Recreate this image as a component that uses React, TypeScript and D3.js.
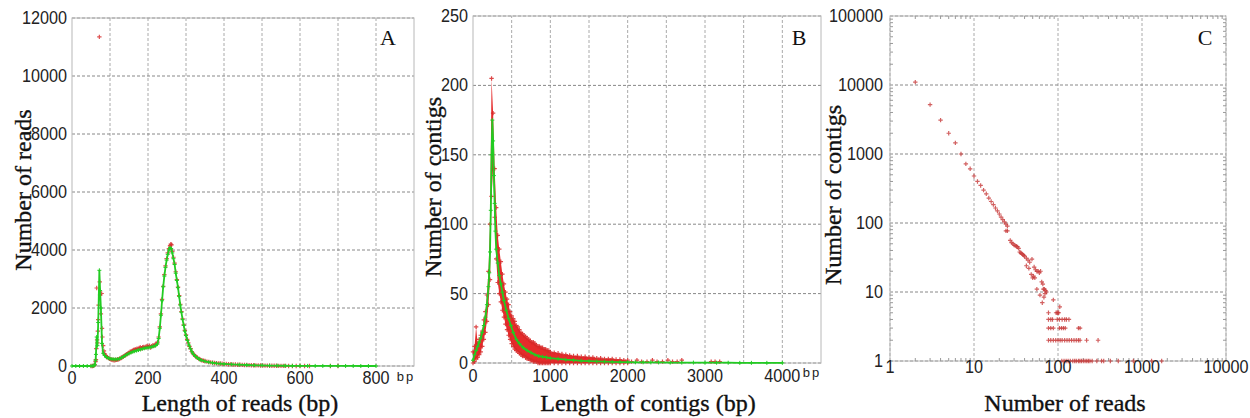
import React, { useEffect, useRef } from 'react';
import * as d3 from 'd3';

// ---- Panel A: length of reads ----
const lenA = [0, 10, 20, 30, 40, 50, 55, 58, 60, 62, 63, 65, 67, 69, 72, 74, 76, 79, 82, 86, 91, 96, 100, 105, 110, 115, 120, 125, 130, 135, 140, 145, 150, 155, 160, 165, 170, 175, 180, 185, 190, 195, 200, 205, 210, 215, 220, 225, 228, 231, 234, 237, 240, 243, 246, 249, 252, 255, 258, 261, 264, 267, 270, 273, 276, 279, 282, 285, 288, 291, 294, 297, 300, 304, 308, 312, 316, 320, 325, 330, 335, 340, 350, 360, 370, 380, 390, 400, 420, 440, 460, 480, 500, 520, 540, 560, 580, 600, 620, 640, 660, 680, 700, 720, 740, 760, 780, 800];
const readsA = [0, 0, 0, 0, 0, 0, 5, 15, 40, 200, 400, 1000, 700, 1500, 3300, 2600, 2000, 780, 440, 360, 300, 270, 255, 240, 232, 228, 235, 255, 285, 320, 360, 400, 430, 460, 490, 510, 530, 550, 570, 590, 610, 625, 635, 640, 660, 680, 700, 760, 950, 1300, 1750, 2250, 2730, 3100, 3400, 3650, 3850, 4000, 4080, 4050, 3900, 3700, 3500, 3200, 2950, 2700, 2400, 2100, 1850, 1600, 1400, 1200, 1050, 880, 720, 590, 480, 400, 330, 280, 230, 200, 160, 130, 110, 90, 80, 70, 55, 45, 35, 25, 20, 15, 12, 8, 6, 5, 4, 3, 2, 2, 1, 1, 1, 0, 0, 0];
const redLenA = [50, 54, 57, 60, 62, 63, 64, 65, 66, 67, 68, 69, 70, 72, 73, 74, 76, 78, 79, 80, 82, 84, 86, 88, 90, 93, 96, 99, 102, 105, 108, 111, 114, 117, 120, 123, 126, 129, 132, 135, 138, 141, 144, 147, 150, 153, 156, 159, 162, 165, 168, 171, 174, 177, 180, 183, 186, 189, 192, 195, 198, 201, 204, 207, 210, 213, 216, 219, 222, 225, 228, 231, 234, 237, 240, 243, 246, 249, 252, 255, 258, 260, 262, 264, 267, 270, 273, 276, 279, 282, 285, 288, 291, 294, 297, 300, 303, 306, 309, 312, 315, 318, 321, 324, 327, 330, 334, 338, 342, 346, 350, 355, 360, 365, 370, 375, 380, 385, 390, 395, 400, 406, 412, 418, 424, 430, 436, 442, 448, 454, 460, 466, 472, 478, 484, 490, 496, 502, 508, 514, 520, 526, 532, 538, 544, 550, 556, 562, 570, 580, 590, 600, 612, 625, 680, 700];
const redReadsA = [0, 0, 10, 40, 150, 220, 600, 2690, 900, 800, 1200, 1600, 2100, 11350, 2900, 2450, 1800, 2500, 1300, 1000, 700, 520, 420, 370, 330, 300, 270, 250, 230, 215, 205, 200, 205, 210, 220, 235, 255, 275, 300, 330, 350, 380, 410, 430, 460, 490, 500, 530, 550, 560, 580, 600, 590, 620, 640, 610, 650, 660, 640, 670, 690, 660, 700, 640, 680, 720, 700, 740, 760, 820, 1000, 1350, 1800, 2300, 2750, 3150, 3450, 3700, 3900, 4050, 4150, 4200, 4180, 3950, 3750, 3550, 3250, 2980, 2720, 2430, 2130, 1880, 1630, 1420, 1230, 1070, 920, 800, 680, 600, 500, 440, 390, 350, 310, 290, 250, 220, 200, 180, 170, 150, 140, 125, 115, 105, 100, 92, 85, 80, 75, 68, 62, 58, 52, 50, 45, 42, 38, 35, 32, 30, 28, 25, 22, 20, 18, 16, 14, 12, 10, 9, 8, 7, 6, 5, 4, 3, 2, 2, 1, 1, 1, 0, 0, 0];
const xTicksA = [0, 200, 400, 600, 800];
const xGridA = [100, 200, 300, 400, 500, 600, 700, 800];
const yTicksA = [0, 2000, 4000, 6000, 8000, 10000, 12000];

// ---- Panel B: length of contigs ----
const lenB = [0, 20, 40, 60, 80, 100, 120, 140, 160, 180, 200, 210, 220, 230, 240, 250, 260, 270, 280, 290, 300, 320, 340, 360, 380, 400, 430, 460, 490, 520, 560, 600, 650, 700, 750, 800, 850, 900, 950, 1000, 1100, 1200, 1300, 1400, 1500, 1600, 1700, 1800, 1900, 2000, 2100, 2200, 2300, 2400, 2550, 2700, 2850, 3000, 3150, 3300, 3450, 3600, 3800, 4000];
const contigsB = [2, 6, 9, 12, 15, 18, 22, 27, 33, 42, 55, 65, 80, 110, 150, 175, 160, 135, 115, 95, 82, 72, 63, 57, 51, 45, 38, 32, 27, 22, 17, 14, 11, 9, 7.5, 6, 5, 4.5, 4, 3.5, 3, 2.4, 2, 1.6, 1.3, 1.1, 1, 0.8, 0.7, 0.6, 0.5, 0.5, 0.4, 0.4, 0.3, 0.3, 0.3, 0.2, 0.2, 0.2, 0.1, 0.1, 0.1, 0.1];
const redLenB = [0, 20, 40, 60, 80, 100, 120, 140, 160, 180, 200, 220, 240, 260, 280, 300, 320, 340, 360, 380, 400, 420, 440, 460, 480, 500, 520, 540, 560, 580, 600, 620, 640, 660, 680, 700, 720, 740, 760, 780, 800, 820, 840, 860, 880, 900, 920, 940, 960, 980, 1000, 1050, 1100, 1150, 1200, 1250, 1300, 1350, 1400, 1450, 1500, 1550, 1600, 1650, 1700, 1750, 1800, 1850, 1900, 1950, 2000];
const redHiB = [8, 12, 26, 14, 17, 20, 23, 31, 37, 49, 66, 100, 205, 180, 140, 112, 92, 82, 73, 64, 57, 51, 46, 42, 37, 34, 32, 30, 27, 26, 24, 22, 21, 20, 19, 18, 17, 16, 15, 15, 14, 13, 12, 12, 11, 11, 10, 10, 9, 9, 8, 7.5, 7, 6.5, 6, 5.5, 5, 5, 4.5, 4.5, 4, 4, 3.5, 3.5, 3, 3, 3, 2.5, 2.5, 2, 2];
const redLoB = [0, 1, 3, 4, 6, 8, 12, 17, 22, 30, 42, 60, 120, 140, 105, 75, 58, 50, 44, 38, 33, 28, 24, 20, 17, 14, 12, 10, 9, 8, 7, 6, 5, 5, 4, 3, 3, 2, 2, 1, 1, 1, 0, 0, 0, 0, 0, 0, 0, 0, 0, 0, 0, 0, 0, 0, 0, 0, 0, 0, 0, 0, 0, 0, 0, 0, 0, 0, 0, 0, 0];
const sparseLenB = [2050, 2120, 2180, 2250, 2320, 2380, 2450, 2520, 2580, 2640, 2700, 3080, 3130, 3190];
const sparseCntB = [1, 2, 1, 1, 2, 1, 1, 2, 1, 1, 2, 1, 1, 1];
const xTicksB = [0, 1000, 2000, 3000, 4000];
const xGridB = [500, 1000, 1500, 2000, 2500, 3000, 3500, 4000];
const yTicksB = [0, 50, 100, 150, 200, 250];

// ---- Panel C: reads per contig (log-log) ----
const readsC = [2, 3, 4, 5, 6, 7, 8, 9, 10, 11, 12, 13, 14, 15, 16, 17, 18, 19, 20, 21, 22, 23, 24, 25,
  24, 25, 27, 28, 29, 30, 31, 32, 33, 34, 35, 36, 37, 38, 39, 40, 42, 44, 46, 42, 45, 49, 52, 54, 56, 58, 60, 62, 48, 51, 53, 50,
  64, 66, 67, 69, 71, 73, 70, 56, 61, 68, 65, 88, 105, 77, 95, 98, 100, 102,
  77, 82, 86, 98, 104, 112, 120, 126, 135,
  77, 82, 88, 104, 110, 116, 122, 175, 183,
  77, 82, 88, 94, 100, 106, 112, 120, 128, 136, 145, 155, 165, 175, 183, 219, 300,
  111, 118, 125, 132, 140, 150, 158, 165, 175, 182, 190, 200, 210, 220, 230, 240, 255, 290, 330, 350, 420, 522, 789, 1300, 1715];
const contigsC = [11000, 5200, 3100, 2000, 1450, 1000, 720, 610, 480, 400, 350, 300, 265, 230, 205, 185, 165, 150, 135, 122, 112, 104, 96, 90,
  77, 77, 56, 52, 50, 48, 47, 46, 45, 43, 38, 37, 36, 35, 34, 33, 31, 29, 27, 24, 22, 30, 23, 21, 20, 20, 19, 20, 18, 17, 16, 16,
  14, 13, 11, 11, 10.5, 10, 9.5, 11, 9, 8.4, 7, 7.7, 6.1, 5, 5, 5, 5, 5,
  4, 4, 4, 4, 4, 4, 4, 4, 4,
  3, 3, 3, 3, 3, 3, 3, 3, 3,
  2, 2, 2, 2, 2, 2, 2, 2, 2, 2, 2, 2, 2, 2, 2, 2, 2,
  1, 1, 1, 1, 1, 1, 1, 1, 1, 1, 1, 1, 1, 1, 1, 1, 1, 1, 1, 1, 1, 1, 1, 1, 1];
const xTicksC = [1, 10, 100, 1000, 10000];
const yTicksC = [1, 10, 100, 1000, 10000, 100000];

const RED = '#d82828';
const GREEN = '#22cc22';

function plusPath(s: number) {
  return `M${-s},0H${s}M0,${-s}V${s}`;
}

function tickText(g: any, txt: string, x: number, y: number, anchor: string) {
  g.append('text')
    .attr('transform', `translate(${x},${y}) scale(0.9,1)`)
    .attr('text-anchor', anchor)
    .attr('font-family', 'Liberation Sans, Arial, sans-serif')
    .attr('font-size', 18)
    .attr('fill', '#222')
    .text(txt);
}

function frame(g: any, x: any, y: any, xGrid: number[], yGrid: number[]) {
  const [x0, x1] = x.range();
  const [y0, y1] = y.range();
  g.selectAll('.vg').data(xGrid).enter().append('line')
    .attr('x1', (d: number) => x(d)).attr('x2', (d: number) => x(d))
    .attr('y1', y0).attr('y2', y1)
    .attr('stroke', '#aaa').attr('stroke-dasharray', '3,2');
  g.selectAll('.hg').data(yGrid).enter().append('line')
    .attr('x1', x0).attr('x2', x1)
    .attr('y1', (d: number) => y(d)).attr('y2', (d: number) => y(d))
    .attr('stroke', '#888').attr('stroke-dasharray', '3,2');
  g.append('rect')
    .attr('x', x0).attr('y', y1).attr('width', x1 - x0).attr('height', y0 - y1)
    .attr('fill', 'none').attr('stroke', '#b8b8b8');
}

function titles(g: any, xt: string, xtx: number, yt: string, ytx: number, yty: number, letter: string, lx: number) {
  const serif = 'Liberation Serif, Times New Roman, serif';
  g.append('text').attr('x', xtx).attr('y', 411).attr('text-anchor', 'middle')
    .attr('font-family', serif).attr('font-size', 24).attr('fill', '#111')
    .attr('stroke', '#111').attr('stroke-width', 0.35).text(xt);
  g.append('text').attr('transform', `translate(${ytx},${yty}) rotate(-90)`).attr('text-anchor', 'middle')
    .attr('font-family', serif).attr('font-size', 24).attr('fill', '#111')
    .attr('stroke', '#111').attr('stroke-width', 0.35).text(yt);
  g.append('text').attr('x', lx).attr('y', 45).attr('text-anchor', 'middle')
    .attr('font-family', serif).attr('font-size', 22).attr('fill', '#111').text(letter);
}

export default function App() {
  const ref = useRef<SVGSVGElement>(null);

  useEffect(() => {
    const svg = d3.select(ref.current);
    svg.selectAll('*').remove();

    // ----- A -----
    const gA = svg.append('g');
    const xA = d3.scaleLinear().domain([0, 900]).range([72, 414]);
    const yA = d3.scaleLinear().domain([0, 12000]).range([366, 18]);
    frame(gA, xA, yA, xGridA, yTicksA);
    gA.selectAll('.r').data(redLenA).enter().append('path')
      .attr('d', plusPath(2.2))
      .attr('transform', (d: number, i: number) => `translate(${xA(d)},${yA(redReadsA[i])})`)
      .attr('stroke', RED).attr('stroke-width', 1.2).attr('opacity', 0.8);
    const lineA = d3.line<number>().x((d) => xA(d)).y((d, i) => yA(readsA[i]));
    gA.append('path').attr('d', lineA(lenA)).attr('fill', 'none').attr('stroke', GREEN).attr('stroke-width', 1.8);
    gA.selectAll('.gm').data(lenA).enter().append('path')
      .attr('d', plusPath(2))
      .attr('transform', (d: number, i: number) => `translate(${xA(d)},${yA(readsA[i])})`)
      .attr('stroke', GREEN).attr('stroke-width', 1);
    yTicksA.forEach((t) => tickText(gA, String(t), 67, yA(t) + 6, 'end'));
    xTicksA.forEach((t) => tickText(gA, String(t), xA(t), 384, 'middle'));
    gA.append('text').attr('x', 406).attr('y', 381).attr('text-anchor', 'middle')
      .attr('font-family', 'Liberation Sans, Arial, sans-serif').attr('font-size', 13)
      .attr('letter-spacing', 2).attr('fill', '#222').text('bp');
    titles(gA, 'Length of reads (bp)', 240, 'Number of reads', 31, 190, 'A', 388);

    // ----- B -----
    const gB = svg.append('g');
    const xB = d3.scaleLinear().domain([0, 4500]).range([473, 821]);
    const yB = d3.scaleLinear().domain([0, 250]).range([363, 16]);
    frame(gB, xB, yB, xGridB, yTicksB);
    const areaB = d3.area<number>().x((d) => xB(d)).y0((d, i) => yB(redLoB[i])).y1((d, i) => yB(redHiB[i]));
    gB.append('path').attr('d', areaB(redLenB)).attr('fill', '#e42020').attr('opacity', 0.95);
    const cloud = redLenB.map((d, i) => [d, redHiB[i]]).concat(redLenB.map((d, i) => [d, redLoB[i]]))
      .concat(sparseLenB.map((d, i) => [d, sparseCntB[i]]));
    gB.selectAll('.r').data(cloud).enter().append('path')
      .attr('d', plusPath(2.2))
      .attr('transform', (d: number[]) => `translate(${xB(d[0])},${yB(d[1])})`)
      .attr('stroke', RED).attr('stroke-width', 1.2).attr('opacity', 0.85);
    const lineB = d3.line<number>().x((d) => xB(d)).y((d, i) => yB(contigsB[i]));
    gB.append('path').attr('d', lineB(lenB)).attr('fill', 'none').attr('stroke', GREEN).attr('stroke-width', 1.8);
    gB.selectAll('.gm').data(lenB).enter().append('path')
      .attr('d', plusPath(2))
      .attr('transform', (d: number, i: number) => `translate(${xB(d)},${yB(contigsB[i])})`)
      .attr('stroke', GREEN).attr('stroke-width', 1);
    yTicksB.forEach((t) => tickText(gB, String(t), 468, yB(t) + 6, 'end'));
    xTicksB.forEach((t) => tickText(gB, String(t), xB(t), 382, 'middle'));
    gB.append('text').attr('x', 812).attr('y', 377).attr('text-anchor', 'middle')
      .attr('font-family', 'Liberation Sans, Arial, sans-serif').attr('font-size', 13)
      .attr('letter-spacing', 2).attr('fill', '#222').text('bp');
    titles(gB, 'Length of contigs (bp)', 648, 'Number of contigs', 441, 187, 'B', 799);

    // ----- C -----
    const gC = svg.append('g');
    const xC = d3.scaleLog().domain([1, 10000]).range([890, 1226]);
    const yC = d3.scaleLog().domain([1, 100000]).range([361, 16]);
    frame(gC, xC, yC, xTicksC, yTicksC);
    const minorX = xC.ticks().filter((t: number) => !xTicksC.includes(t));
    const minorY = yC.ticks().filter((t: number) => !yTicksC.includes(t));
    minorX.forEach((t: number) => {
      gC.append('line').attr('x1', xC(t)).attr('x2', xC(t)).attr('y1', 16).attr('y2', 19).attr('stroke', '#999');
      gC.append('line').attr('x1', xC(t)).attr('x2', xC(t)).attr('y1', 361).attr('y2', 358).attr('stroke', '#999');
    });
    minorY.forEach((t: number) => {
      gC.append('line').attr('x1', 890).attr('x2', 893).attr('y1', yC(t)).attr('y2', yC(t)).attr('stroke', '#999');
      gC.append('line').attr('x1', 1226).attr('x2', 1223).attr('y1', yC(t)).attr('y2', yC(t)).attr('stroke', '#999');
    });
    gC.selectAll('.r').data(readsC).enter().append('path')
      .attr('d', plusPath(2.2))
      .attr('transform', (d: number, i: number) => `translate(${xC(d)},${yC(contigsC[i])})`)
      .attr('stroke', '#c83a3a').attr('stroke-width', 1.2).attr('opacity', 0.8);
    yTicksC.forEach((t) => tickText(gC, String(t), 883, yC(t) + 6, 'end'));
    xTicksC.forEach((t) => tickText(gC, String(t), xC(t), 373, 'middle'));
    titles(gC, 'Number of reads', 1065, 'Number of contigs', 841, 195, 'C', 1205);
  }, []);

  return (
    <svg ref={ref} width={1250} height={418}
      style={{ position: 'absolute', left: 0, top: 0, background: '#fff' }} />
  );
}
